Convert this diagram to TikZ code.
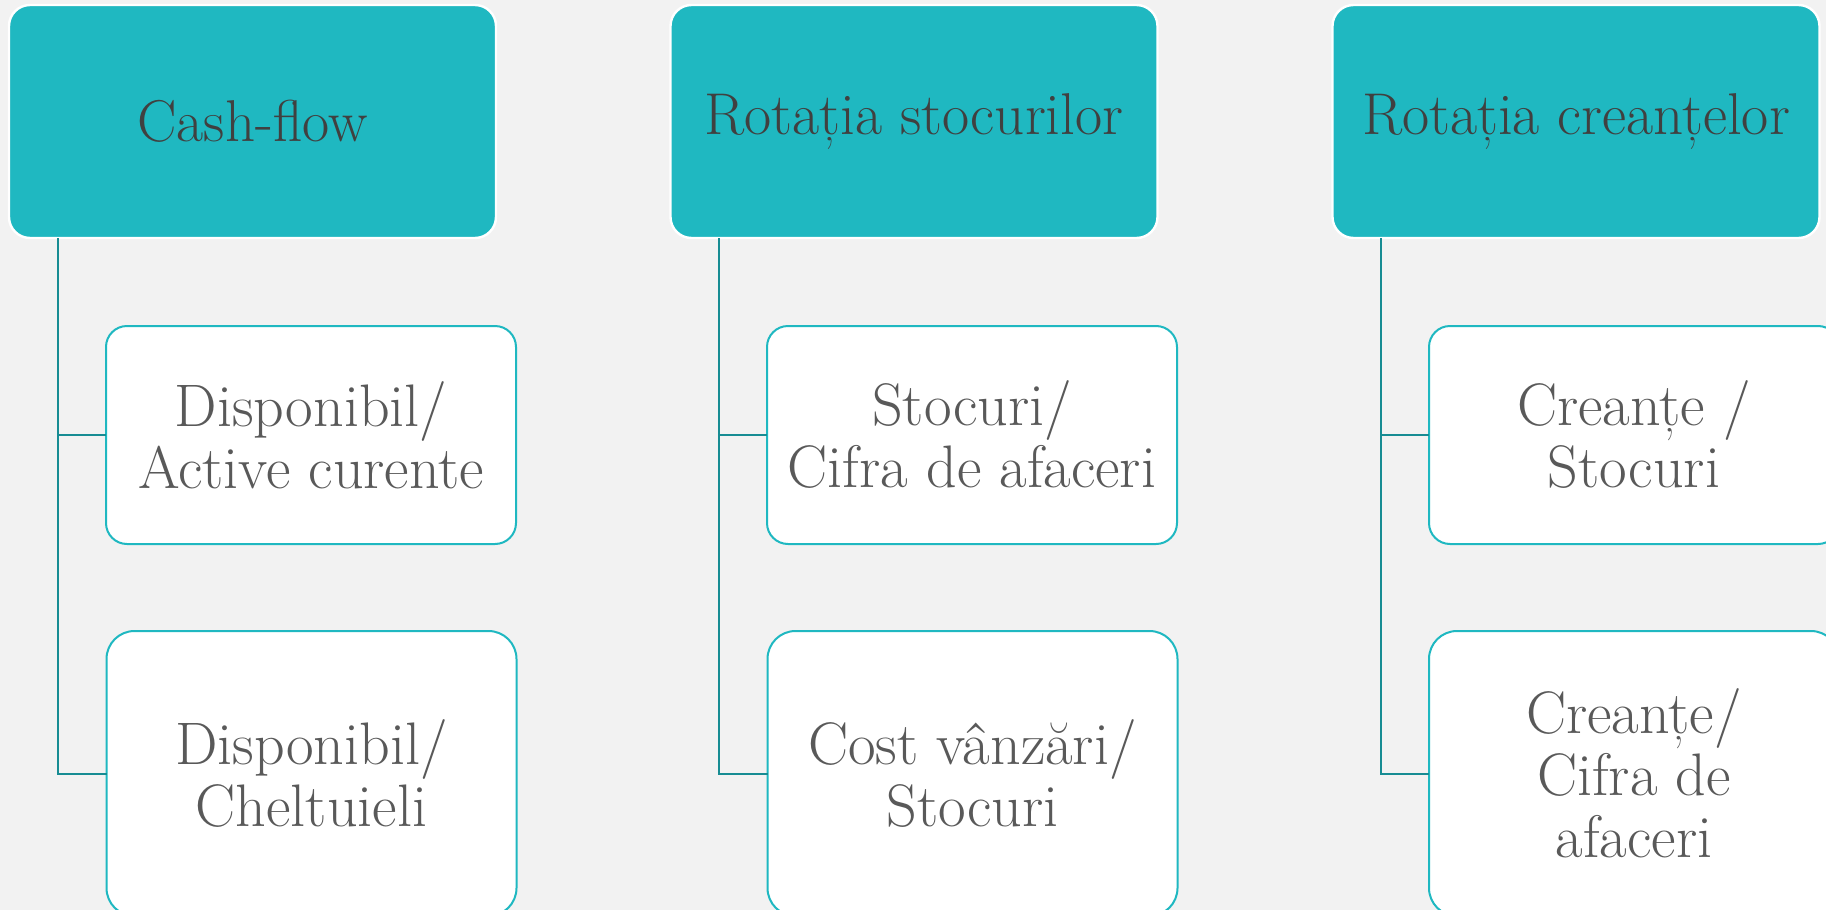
\documentclass[tikz,border=0pt]{standalone}
\usepackage{fontspec}
\usetikzlibrary{calc}
\definecolor{bg}{HTML}{F2F2F2}
\definecolor{teal1}{HTML}{1FB8C1}
\definecolor{conncol}{HTML}{178C93}
\definecolor{toptext}{HTML}{404040}
\definecolor{childtext}{HTML}{595959}
\tikzset{
  topbox/.style={draw=white, line width=1.2pt, fill=teal1, rounded corners=10.5pt,
    minimum width=243.5pt, minimum height=116.5pt, inner sep=0pt, outer sep=0pt,
    text=toptext, font=\fontsize{29.5}{33}\selectfont, align=center},
  childbox/.style={draw=teal1, line width=1pt, fill=white, rounded corners=10.5pt,
    minimum width=205pt, inner sep=0pt, outer sep=0pt,
    text=childtext, font=\fontsize{30}{31}\selectfont, align=center},
  rowa/.style={minimum height=109pt},
  rowb/.style={minimum height=142.5pt, rounded corners=14pt},
  conn/.style={draw=conncol, line width=1pt}
}
\begin{document}
\begin{tikzpicture}[x=0.5pt,y=-0.5pt]
\fill[bg] (0,0) rectangle (1826,910);
\useasboundingbox (0,0) rectangle (1826,910);
\clip (0,0) rectangle (1826,910);
% top boxes
\node[topbox] (t1) at (252.5,121.5) {Cash-flow};
\node[topbox] (t2) at (914,121.5) {Rotația stocurilor};
\node[topbox] (t3) at (1576,121.5) {Rotația creanțelor};
% children
\node[childbox,rowa] (c1a) at (311,435) {Disponibil/\\Active curente};
\node[childbox,rowb] (c1b) at (311.5,773.5) {Disponibil/\\Cheltuieli};
\node[childbox,rowa] (c2a) at (972,435) {Stocuri/\\Cifra de afaceri};
\node[childbox,rowb] (c2b) at (972.5,773.5) {Cost vânzări/\\Stocuri};
\node[childbox,rowa] (c3a) at (1634,435) {Creanțe /\\Stocuri};
\node[childbox,rowb] (c3b) at (1634,773.5) {Creanțe/\\Cifra de\\afaceri};
% connectors
\coordinate (s1) at ($(t1.south west)+(49,0)$);
\coordinate (s2) at ($(t2.south west)+(48,0)$);
\coordinate (s3) at ($(t3.south west)+(48,0)$);
\foreach \s/\a/\b in {s1/c1a/c1b, s2/c2a/c2b, s3/c3a/c3b}{
  \draw[conn] (\s) |- (\b.west);
  \draw[conn] (\s |- \a.west) -- (\a.west);
}
\end{tikzpicture}
\end{document}
